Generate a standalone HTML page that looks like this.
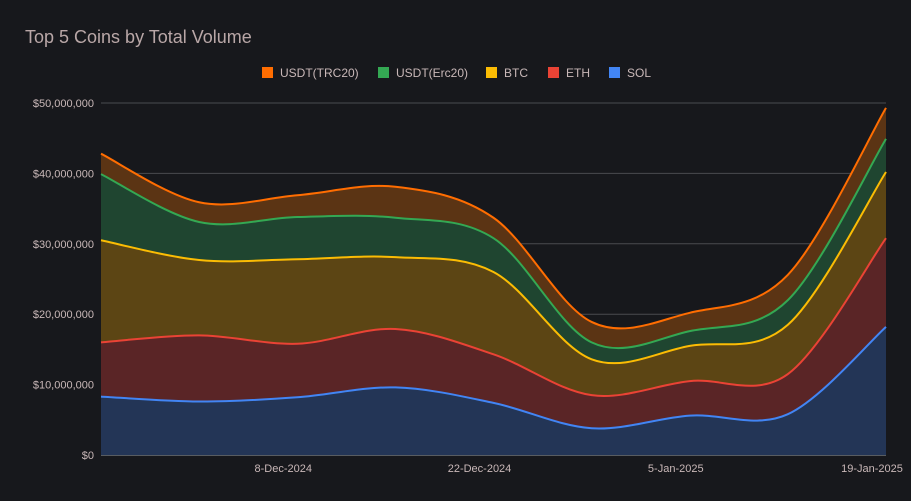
<!DOCTYPE html>
<html><head><meta charset="utf-8"><style>
html,body{margin:0;padding:0;background:#17181c;}
svg{display:block;font-family:"Liberation Sans",Arial,sans-serif;}
</style></head><body>
<svg id="chart" width="911" height="501">
<rect width="911" height="501" fill="#17181c"/>
<text x="25" y="43" font-size="18" fill="#b9a7a7">Top 5 Coins by Total Volume</text>
<g id="grid"></g><g id="areas"></g><g id="lines"></g><g id="axes"></g><g id="legend"></g>
</svg>
<script>
const categories=["24-Nov","1-Dec","8-Dec","15-Dec","22-Dec","29-Dec","5-Jan","12-Jan","19-Jan"];
const solValues=[8.3,7.6,8.2,9.6,7.4,3.8,5.6,5.8,18.2];
const ethValues=[7.7,9.4,7.6,8.3,6.9,4.7,4.9,5.7,12.6];
const btcValues=[14.5,10.7,12.0,10.2,11.7,5.1,5.0,7.0,9.4];
const erc20Values=[9.4,5.4,6.0,5.6,4.8,2.4,2.1,3.5,4.7];
const trc20Values=[2.9,2.8,3.1,4.4,2.9,2.9,2.6,3.6,4.4];
const yTicks=[0,10,20,30,40,50];
const yTickLabels=["$0","$10,000,000","$20,000,000","$30,000,000","$40,000,000","$50,000,000"];
const xTickIdx=[2,4,6,8];
const xTickLabels=["8-Dec-2024","22-Dec-2024","5-Jan-2025","19-Jan-2025"];
const seriesNames=["USDT(TRC20)","USDT(Erc20)","BTC","ETH","SOL"];

const NS="http://www.w3.org/2000/svg";
const L=101,R=886,T=103,B=455;
const xs=i=>L+(R-L)*i/(categories.length-1);
const ys=v=>B-(B-T)*v/50;
function mk(tag,attrs,parent){const e=document.createElementNS(NS,tag);for(const k in attrs)e.setAttribute(k,attrs[k]);parent.appendChild(e);return e;}
const grid=document.getElementById('grid'),axes=document.getElementById('axes');
yTicks.forEach((t,i)=>{
  const g=mk('line',{x1:L,x2:R,y1:ys(t),y2:ys(t),stroke:i===0?'#9aa0a6':'#4a4b4f','stroke-width':1},grid);
  
  
  const tx=mk('text',{x:94,y:ys(t)+4,'text-anchor':'end','font-size':11,fill:'#c9b8b8'},axes);
  tx.textContent=yTickLabels[i];
  
  
});
xTickIdx.forEach((idx,i)=>{
  const tx=mk('text',{x:xs(idx)-14,y:472,'text-anchor':'middle','font-size':11,fill:'#c9b8b8'},axes);
  tx.textContent=xTickLabels[i];
  
  
});
const series=[solValues,ethValues,btcValues,erc20Values,trc20Values];
const lineCols=["#4285f4","#ea4335","#fbbc04","#34a853","#ff6d01"];
const fillCols=["#233556","#5a2526","#5c4514","#1f4530","#5b3414"];
const names=["SOL","ETH","BTC","USDT(Erc20)","USDT(TRC20)"];
let base=categories.map(()=>0);const cum=[];
series.forEach(s=>{const top=s.map((v,i)=>base[i]+v);cum.push({lo:base,hi:top});base=top;});
function smooth(pts){let d='';for(let i=0;i<pts.length-1;i++){const p0=pts[Math.max(i-1,0)],p1=pts[i],p2=pts[i+1],p3=pts[Math.min(i+2,pts.length-1)];
const c1=[p1[0]+(p2[0]-p0[0])/6,p1[1]+(p2[1]-p0[1])/6],c2=[p2[0]-(p3[0]-p1[0])/6,p2[1]-(p3[1]-p1[1])/6];
d+=` C${c1[0]},${c1[1]} ${c2[0]},${c2[1]} ${p2[0]},${p2[1]}`;}return d;}
const areas=document.getElementById('areas'),lines=document.getElementById('lines');
cum.forEach((c,k)=>{
  const hi=c.hi.map((v,i)=>[xs(i),ys(v)]),lo=c.lo.map((v,i)=>[xs(i),ys(v)]).reverse();
  const d='M'+hi[0][0]+','+hi[0][1]+smooth(hi)+' L'+lo[0][0]+','+lo[0][1]+smooth(lo)+' Z';
  const a=mk('path',{d:d,fill:fillCols[k]},areas);
  
  
  const l=mk('path',{d:'M'+hi[0][0]+','+hi[0][1]+smooth(hi),fill:'none',stroke:lineCols[k],'stroke-width':2},lines);
  
  
});
const legend=document.getElementById('legend');
const lx=[262,378,486,548,609];
seriesNames.forEach((n,i)=>{
  const col=lineCols[4-i];
  const r=mk('rect',{x:lx[i],y:67,width:11,height:11,fill:col},legend);
  
  
  const t=mk('text',{x:lx[i]+18,y:77,'font-size':12,fill:'#c9b8b8'},legend);
  t.textContent=n;
  
  
});
</script>
</body></html>
